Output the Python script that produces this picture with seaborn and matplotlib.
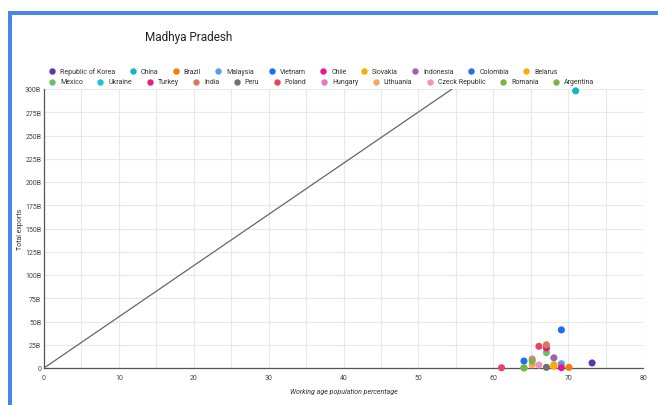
import matplotlib
matplotlib.use("Agg")
import matplotlib.pyplot as plt
from matplotlib.lines import Line2D
from matplotlib.patches import Rectangle
from matplotlib.ticker import FuncFormatter, MultipleLocator
import pandas as pd
import seaborn as sns

# Countries in legend order, with their series colours
countries = [
    "Republic of Korea", "China", "Brazil", "Malaysia", "Vietnam", "Chile",
    "Slovakia", "Indonesia", "Colombia", "Belarus",
    "Mexico", "Ukraine", "Turkey", "India", "Peru", "Poland", "Hungary",
    "Lithuania", "Czeck Republic", "Romania", "Argentina",
]
colors = [
    "#5e35b1", "#12b5cb", "#f57c00", "#5c9ce6", "#1a6ef5", "#e8168c",
    "#f9ab00", "#9a62b8", "#1a73e8", "#fbaa0c",
    "#6cc069", "#21c1d6", "#ec1a82", "#d6785a", "#707070", "#e8435f",
    "#e07fb5", "#fca35c", "#f391b8", "#7cb342", "#7cb342",
]

# Scatter points: country, working-age population share (%), total exports (billions)
point_country = [
    "Republic of Korea", "China", "Brazil", "Malaysia", "Vietnam", "Chile",
    "Slovakia", "Indonesia", "Colombia", "Belarus",
    "Mexico", "Ukraine", "Turkey", "India", "Peru", "Poland", "Hungary",
    "Lithuania", "Czeck Republic", "Romania", "Argentina", "Poland",
]
working_age = [
    73.2, 71.0, 70.1, 69.1, 69.1, 69.1,
    68.1, 68.1, 64.1, 68.1,
    67.1, 64.1, 67.1, 67.1, 67.1, 61.1, 65.2,
    65.2, 66.1, 65.2, 64.1, 66.1,
]
exports_bn = [
    5.4, 298.0, 0.7, 4.6, 41.0, 0.3,
    3.5, 11.0, 7.5, 1.8,
    16.5, 0.3, 21.5, 25.0, 0.7, 0.3, 9.7,
    3.5, 3.2, 7.5, 0.0, 23.3,
]

# Trendline slope (billions per percentage point)
trend_slope = 300.0 / 54.5

x_ticks = [0, 10, 20, 30, 40, 50, 60, 70, 80]
y_ticks = [0, 25, 50, 75, 100, 125, 150, 175, 200, 225, 250, 275, 300]

df = pd.DataFrame({"Country": point_country,
                   "Working age population percentage": working_age,
                   "Total exports": exports_bn})
palette = dict(zip(countries, colors))

sns.set_theme(style="white")
plt.rcParams["font.family"] = ["Roboto", "DejaVu Sans"]

W, H = 658, 406
fig = plt.figure(figsize=(W / 100, H / 100), dpi=100)
ax = fig.add_axes([44 / W, 1 - 369 / H, (643 - 44) / W, (369 - 90) / H])

ax.axline((0, 0), slope=trend_slope, color="#666666", lw=0.9, zorder=2)
sns.scatterplot(data=df, x="Working age population percentage", y="Total exports",
                hue="Country", palette=palette, hue_order=countries,
                s=26, linewidth=0, legend=False, ax=ax, zorder=3, clip_on=False)

ax.set_xlim(0, 80)
ax.set_ylim(0, 300)
ax.set_xticks(x_ticks)
ax.set_yticks(y_ticks)
ax.xaxis.set_minor_locator(MultipleLocator(5))
ax.yaxis.set_major_formatter(FuncFormatter(lambda v, p: "0" if v == 0 else f"{int(v)}B"))
ax.grid(True, which="both", axis="x", color="#e8e8e8", lw=0.8)
ax.grid(True, which="major", axis="y", color="#e8e8e8", lw=0.8)
ax.set_axisbelow(True)
for side in ["top", "right"]:
    ax.spines[side].set_visible(False)
for side in ["left", "bottom"]:
    ax.spines[side].set_color("#555555")
    ax.spines[side].set_linewidth(0.9)
    ax.spines[side].set_zorder(1)
ax.tick_params(axis="both", which="both", length=0, labelsize=5, labelcolor="#444444")
ax.tick_params(axis="x", pad=4)
ax.tick_params(axis="y", pad=2)
ax.set_xlabel("Working age population percentage", fontsize=5, style="italic",
              color="#333333")
ax.set_ylabel("Total exports", fontsize=5, color="#333333")
ax.xaxis.set_label_coords(0.5, -(389 - 369) / (369 - 90))
ax.yaxis.set_label_coords(-(44 - 24) / (643 - 44), 0.5)

fig.text(145 / W, 1 - 38 / H, "Madhya Pradesh", fontsize=8.5, color="#222222",
         ha="left", va="center")

# Legend in two flowing rows
rows = [countries[:10], countries[10:]]
row_y = [72, 83]
renderer = fig.canvas.get_renderer()
for names, ry in zip(rows, row_y):
    x = 52
    for name in names:
        fig.add_artist(Line2D([x / W], [1 - ry / H], marker="o", markersize=3.6,
                              color=palette[name], lw=0, transform=fig.transFigure))
        t = fig.text((x + 8) / W, 1 - ry / H, name, fontsize=5, color="#333333",
                     ha="left", va="center")
        w = t.get_window_extent(renderer).width
        x = x + 8 + w + 17.5

# Selection frame along the top and left edges
frame = "#4a86e8"
fig.add_artist(Rectangle((8 / W, 0), 3.5 / W, 1 - 12 / H, transform=fig.transFigure,
                         color=frame, lw=0))
fig.add_artist(Rectangle((8 / W, 1 - 15.5 / H), 1 - 8 / W, 3.5 / H,
                         transform=fig.transFigure, color=frame, lw=0))

fig.savefig("out.png", dpi=100)
